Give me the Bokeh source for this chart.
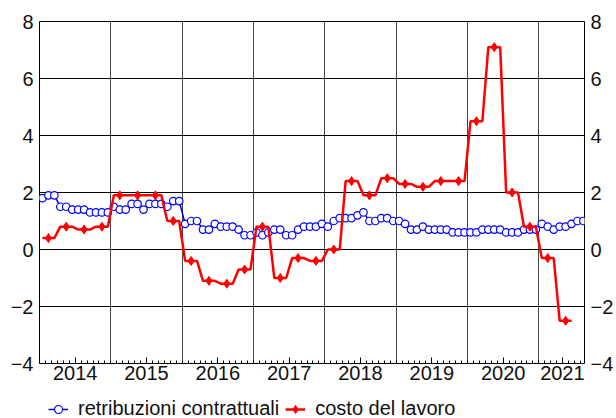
from bokeh.plotting import figure
from bokeh.models import Range1d, LinearAxis, FixedTicker, Legend, LegendItem
from bokeh.layouts import column
from bokeh.embed import file_html
from bokeh.resources import INLINE

# ---- data ----
start_year = 2014
# monthly, Jan 2014 - Aug 2021
retribuzioni_contrattuali = [
    1.8, 1.9, 1.9, 1.5, 1.5, 1.4, 1.4, 1.4, 1.3, 1.3, 1.3, 1.3,   # 2014
    1.5, 1.4, 1.4, 1.6, 1.6, 1.4, 1.6, 1.6, 1.6, 1.5, 1.7, 1.7,   # 2015
    0.9, 1.0, 1.0, 0.7, 0.7, 0.9, 0.8, 0.8, 0.8, 0.7, 0.5, 0.5,   # 2016
    0.6, 0.5, 0.6, 0.7, 0.7, 0.5, 0.5, 0.7, 0.8, 0.8, 0.8, 0.9,   # 2017
    0.8, 1.0, 1.1, 1.1, 1.1, 1.2, 1.3, 1.0, 1.0, 1.1, 1.1, 1.0,   # 2018
    1.0, 0.9, 0.7, 0.7, 0.8, 0.7, 0.7, 0.7, 0.7, 0.6, 0.6, 0.6,   # 2019
    0.6, 0.6, 0.7, 0.7, 0.7, 0.7, 0.6, 0.6, 0.6, 0.7, 0.7, 0.7,   # 2020
    0.9, 0.8, 0.7, 0.8, 0.8, 0.9, 1.0, 1.0,                       # 2021
]
# quarterly, 2014Q1 - 2021Q2
costo_del_lavoro = [
    0.4, 0.8, 0.7, 0.8,      # 2014
    1.9, 1.9, 1.9, 1.0,      # 2015
    -0.4, -1.1, -1.2, -0.7,  # 2016
    0.8, -1.0, -0.3, -0.4,   # 2017
    0.0, 2.4, 1.9, 2.5,      # 2018
    2.3, 2.2, 2.4, 2.4,      # 2019
    4.5, 7.1, 2.0, 0.8,      # 2020
    -0.3, -2.5,              # 2021
]
series_names = ["retribuzioni contrattuali", "costo del lavoro"]
year_labels = ["2014", "2015", "2016", "2017", "2018", "2019", "2020", "2021"]
y_ticks = [-4, -2, 0, 2, 4, 6, 8]

# ---- derived positions (decimal years, mid-month) ----
x_blue = [start_year + (i + 0.5) / 12 for i in range(len(retribuzioni_contrattuali))]
red_monthly = [v for v in costo_del_lavoro for _ in range(3)]
x_red = [start_year + (i + 0.5) / 12 for i in range(len(red_monthly))]
x_red_mk = [start_year + (3 * q + 1.5) / 12 for q in range(len(costo_del_lavoro))]

X_END = 2021.64
label_pos = [start_year + k + 0.5 for k in range(len(year_labels) - 1)]
label_pos.append(2021.33)
label_over = {pos: lab for pos, lab in zip(label_pos, year_labels)}
minor = [start_year + k / 12 for k in range(0, 92)]
y_over = {t: (("\u2212" + str(abs(t))) if t < 0 else str(t)) for t in y_ticks}

FONT = "Liberation Sans"
BLUE = "#0000ff"
RED = "#ff0000"
TICK_FS = "20px"
FIG_W = 614

p = figure(frame_width=545, frame_height=342,
           x_range=Range1d(start_year, X_END), y_range=Range1d(-4, 8),
           output_backend="svg", toolbar_location=None,
           min_border_left=39, min_border_top=21, min_border_bottom=27,
           min_border_right=30)
p.outline_line_color = "black"
p.outline_line_width = 1
p.background_fill_color = "white"
p.border_fill_color = "white"

# grids
p.xgrid.ticker = FixedTicker(ticks=[2015, 2016, 2017, 2018, 2019, 2020, 2021])
p.ygrid.ticker = FixedTicker(ticks=[-2, 0, 2, 4, 6])
p.xgrid.grid_line_color = "#444444"
p.ygrid.grid_line_color = "black"
p.xgrid.grid_line_width = 1
p.ygrid.grid_line_width = 1

# x axis
xa = p.xaxis[0]
xa.ticker = FixedTicker(ticks=label_pos, minor_ticks=minor)
xa.major_label_overrides = label_over
xa.axis_line_color = None
xa.major_tick_in = 6
xa.major_tick_out = 0
xa.minor_tick_in = 3
xa.minor_tick_out = 0
xa.major_tick_line_color = "black"
xa.minor_tick_line_color = "black"
xa.major_label_standoff = 2
xa.major_label_text_font = FONT
xa.major_label_text_font_size = TICK_FS
xa.major_label_text_color = "#111111"

# y axes
def style_y(ax):
    ax.ticker = FixedTicker(ticks=y_ticks)
    ax.major_label_overrides = y_over
    ax.axis_line_color = None
    ax.major_tick_in = 0
    ax.major_tick_out = 0
    ax.minor_tick_in = 0
    ax.minor_tick_out = 0
    ax.major_label_standoff = 6
    ax.major_label_text_font = FONT
    ax.major_label_text_font_size = TICK_FS
    ax.major_label_text_color = "#111111"

style_y(p.yaxis[0])
ra = LinearAxis()
style_y(ra)
p.add_layout(ra, "right")

# series
BLUE_LINE = dict(line_color=BLUE, line_width=1.5)
BLUE_MK = dict(marker="circle", size=7.5, fill_color="white", line_color=BLUE, line_width=1.2)
RED_LINE = dict(line_color=RED, line_width=2.5)
RED_MK = dict(marker="diamond", size=9, fill_color=RED, line_color=RED)

p.line(x_blue, retribuzioni_contrattuali, **BLUE_LINE)
p.scatter(x_blue, retribuzioni_contrattuali, **BLUE_MK)
p.line(x_red, red_monthly, **RED_LINE)
p.scatter(x_red_mk, costo_del_lavoro, **RED_MK)

# ---- legend strip below the chart (same series, outside this strip's view) ----
lf = figure(width=FIG_W, height=28, x_range=Range1d(0, 1), y_range=Range1d(0, 1),
            output_backend="svg", toolbar_location=None,
            min_border=0, min_border_left=0, min_border_right=0,
            min_border_top=0, min_border_bottom=0)
lf.axis.visible = False
lf.grid.visible = False
lf.outline_line_color = None
lb1 = lf.line(x_blue, retribuzioni_contrattuali, **BLUE_LINE)
lb2 = lf.scatter(x_blue, retribuzioni_contrattuali, **BLUE_MK)
lr1 = lf.line(x_red, red_monthly, **RED_LINE)
lr2 = lf.scatter(x_red_mk, costo_del_lavoro, **RED_MK)

legend = Legend(items=[
    LegendItem(label=series_names[0], renderers=[lb1, lb2]),
    LegendItem(label=series_names[1], renderers=[lr1, lr2]),
], orientation="horizontal", location=(9, -2),
    border_line_color=None, background_fill_alpha=0,
    padding=0, margin=0, spacing=6,
    glyph_width=20, glyph_height=20, label_standoff=10, label_height=20,
    label_text_font=FONT, label_text_font_size="20px", label_text_color="#111111")
lf.add_layout(legend, "center")

layout = column(p, lf, spacing=0)
open("out.html", "w").write(file_html(layout, INLINE))
